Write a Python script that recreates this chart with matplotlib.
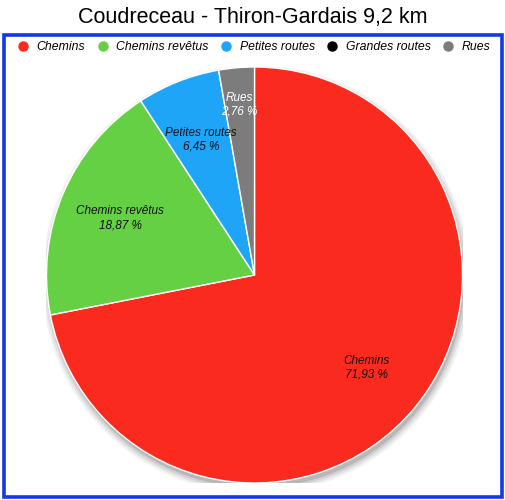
import numpy as np
import matplotlib
matplotlib.use("Agg")
import matplotlib.pyplot as plt
from matplotlib.patches import Rectangle, Circle
from matplotlib.lines import Line2D

title = "Coudreceau - Thiron-Gardais 9,2 km"
categories = ["Chemins", "Chemins revêtus", "Petites routes", "Grandes routes", "Rues"]
values = [71.93, 18.87, 6.45, 0.0, 2.76]
colors = ["#fb2a1f", "#65d043", "#1ea5f7", "#000000", "#7d7c7c"]
label_colors = ["#111111", "#111111", "#111111", "#111111", "#ffffff"]
label_dist = [0.70, 0.70, 0.70, 0.70, 0.82]

plt.rcParams['font.family'] = ['Liberation Sans', 'DejaVu Sans']

W, H = 506, 500
fig = plt.figure(figsize=(W / 100, H / 100), dpi=100)

# border box
fig.patches.append(Rectangle((4 / W, (H - 497) / H), 498 / W, 462 / H,
                             transform=fig.transFigure, fill=False,
                             edgecolor="#1238e8", linewidth=2.6))

fig.text(0.5, 1 - 18 / H, title, ha="center", va="center", fontsize=15.5)

cx, cy, R = 254.5, 275, 208
ax = fig.add_axes([(cx - R) / W, (H - cy - R) / H, 2 * R / W, 2 * R / H])

# soft shadow
for i, a in enumerate([0.05, 0.06, 0.08, 0.12]):
    s = 1.0 + 0.01 * (3 - i)
    ax.add_patch(Circle((0.008, -0.022), s, color="black", alpha=a, lw=0, zorder=0))

nz = [i for i, v in enumerate(values) if v > 0]
wedges, _ = ax.pie([values[i] for i in nz], colors=[colors[i] for i in nz],
                   startangle=90, counterclock=False, radius=1,
                   wedgeprops=dict(edgecolor="white", linewidth=1.0),
                   frame=True)
ax.set_xlim(-1, 1)
ax.set_ylim(-1, 1)
ax.axis("off")

total = sum(values)
start = 90.0
for i, v in enumerate(values):
    span = v / total * 360
    if v > 0:
        mid = np.deg2rad(start - span / 2)
        d = label_dist[i]
        txt = f"{categories[i]}\n{v:.2f} %".replace(".", ",")
        ax.text(d * np.cos(mid), d * np.sin(mid), txt, ha="center", va="center",
                fontsize=8.5, style="italic", color=label_colors[i],
                linespacing=1.2)
    start -= span

handles = [Line2D([], [], marker="o", linestyle="", markersize=6.5,
                  markerfacecolor=c, markeredgecolor=c) for c in colors]
leg = fig.legend(handles, categories, loc="center", bbox_to_anchor=(0.5, 1 - 47 / H),
                 ncol=5, frameon=False, handletextpad=0.5, columnspacing=0.85,
                 handlelength=1.2, prop=dict(size=8.8, style="italic"))

fig.savefig("out.png", dpi=100)
